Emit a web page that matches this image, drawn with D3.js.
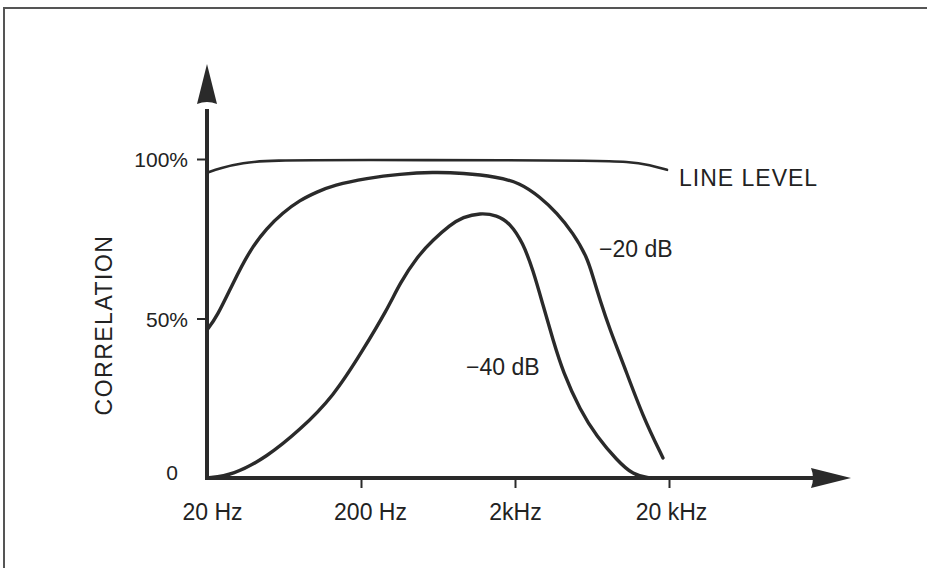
<!DOCTYPE html>
<html>
<head>
<meta charset="utf-8">
<script src="https://cdn.jsdelivr.net/npm/d3@7/dist/d3.min.js"></script>
<style>
  html, body { margin: 0; padding: 0; background: #fff; }
  svg { display: block; }
  text { font-family: "Liberation Sans", Arial, Helvetica, sans-serif; fill: #222; }
</style>
</head>
<body>
<svg id="chart" width="927" height="568"></svg>
<script>
// ---- data ----
const xTickValues = [20, 200, 2000, 20000];
const xTickLabels = ["20 Hz", "200 Hz", "2kHz", "20 kHz"];
const yTickValues = [0, 50, 100];
const yTickLabels = ["0", "50%", "100%"];
const yTitle = "CORRELATION";

// [frequency Hz, correlation %]
const lineLevel = [[20,95.7],[24.3,97.2],[34.3,98.8],[49,99.6],[200,99.7],[2000,99.6],[6000,99.5],[11160,99.2],[15070,98.1],[19410,96.6]];
const minus20 = [[20,46.4],[23.2,50.5],[29.5,61.1],[38,71.5],[49,78.4],[62,83.1],[80,87.1],[104,89.7],[132,91.8],[219,94.0],[358,95.3],[587,95.9],[918,95.6],[1528,94.4],[2156,92.5],[2906,88.1],[3748,83.1],[4765,76.8],[5870,69.3],[6420,63.0],[7130,55.8],[8280,46.4],[10050,36.1],[13560,19.1],[18280,6.3]];
const minus40 = [[20,0],[29.5,0.9],[49,6.6],[80,15.0],[132,25.4],[206,40.1],[295,52.7],[358,61.1],[462,69.3],[587,74.6],[757,79.3],[918,81.8],[1186,83.1],[1528,82.4],[1856,79.9],[2254,73.7],[2618,65.2],[3040,54.2],[3530,43.3],[4100,33.2],[5290,21.3],[6812,12.9],[9180,5.6],[11670,0.9],[15070,0]];
const seriesNames = ["LINE LEVEL", "\u221220 dB", "\u221240 dB"];

// ---- layout ----
const svg = d3.select("#chart");
const x = d3.scaleLog().domain([20, 20000]).range([207, 669]);
const y = d3.scaleLinear().domain([0, 100]).range([478, 159]);
const ink = "#2a2a2a";

// frame (top and left edges visible)
svg.append("path").attr("d", "M4,568V8H927").attr("fill", "none").attr("stroke", "#555").attr("stroke-width", 2);

// y axis
const yAxis = svg.append("g").attr("transform", `translate(${x(20)},0)`)
  .call(d3.axisLeft(y).tickValues(yTickValues).tickFormat((d, i) => yTickLabels[i]).tickSize(10).tickPadding(9).tickSizeOuter(0));
yAxis.select(".domain").remove();
yAxis.selectAll(".tick line").attr("stroke", ink).attr("stroke-width", 2);
yAxis.selectAll(".tick text").attr("font-size", 21).style("fill", "#222")
  .attr("dy", d => d === 0 ? "0.05em" : "0.36em");
yAxis.selectAll(".tick").filter(d => d === 0).select("line").remove();
yAxis.selectAll(".tick").filter(d => d === 0).select("text").attr("x", -29);

// x axis
const dxOff = [5, 9, 0, 2];
const xAxis = svg.append("g").attr("transform", `translate(0,${y(0)})`)
  .call(d3.axisBottom(x).tickValues(xTickValues).tickFormat((d, i) => xTickLabels[i]).tickSize(10).tickPadding(16).tickSizeOuter(0));
xAxis.select(".domain").remove();
xAxis.selectAll(".tick line").attr("stroke", ink).attr("stroke-width", 2);
xAxis.selectAll(".tick").filter(d => d === 20).select("line").remove();
xAxis.selectAll(".tick text").attr("font-size", 23).style("fill", "#222").attr("dx", (d, i) => dxOff[i]);

// axis lines with arrows
const x0 = x(20), y0 = y(0);
svg.append("line").attr("x1", x0).attr("x2", x0).attr("y1", y0 + 2).attr("y2", y(100) - 50)
  .attr("stroke", ink).attr("stroke-width", 4);
svg.append("line").attr("x1", x0 - 2).attr("x2", 815).attr("y1", y0).attr("y2", y0)
  .attr("stroke", ink).attr("stroke-width", 4);
// y arrowhead
svg.append("path").attr("d", `M${x0},64 L${x0 + 10},104 Q${x0},100 ${x0 - 10},104 Z`).attr("fill", ink);
// x arrowhead
svg.append("path").attr("d", `M851,${y0} L811,${y0 + 10} Q815,${y0} 811,${y0 - 10} Z`).attr("fill", ink);

// curves
const line = d3.line().x(d => x(d[0])).y(d => y(d[1])).curve(d3.curveBasis);
svg.append("path").datum(lineLevel).attr("d", line).attr("fill", "none").attr("stroke", ink).attr("stroke-width", 2.6).attr("stroke-linecap", "round");
svg.append("path").datum(minus20).attr("d", line).attr("fill", "none").attr("stroke", ink).attr("stroke-width", 3.4).attr("stroke-linecap", "round");
svg.append("path").datum(minus40).attr("d", line).attr("fill", "none").attr("stroke", ink).attr("stroke-width", 3.4).attr("stroke-linecap", "round");

// series labels
svg.append("text").attr("x", 679).attr("y", 186).attr("font-size", 23).attr("letter-spacing", 1).text(seriesNames[0]);
svg.append("text").attr("x", 599).attr("y", 257).attr("font-size", 23).text(seriesNames[1]);
svg.append("text").attr("x", 466).attr("y", 375).attr("font-size", 23).text(seriesNames[2]);

// y title
svg.append("text").attr("transform", "translate(112,325) rotate(-90)").attr("text-anchor", "middle")
  .attr("font-size", 23).attr("letter-spacing", 1.5).text(yTitle);
</script>
</body>
</html>
